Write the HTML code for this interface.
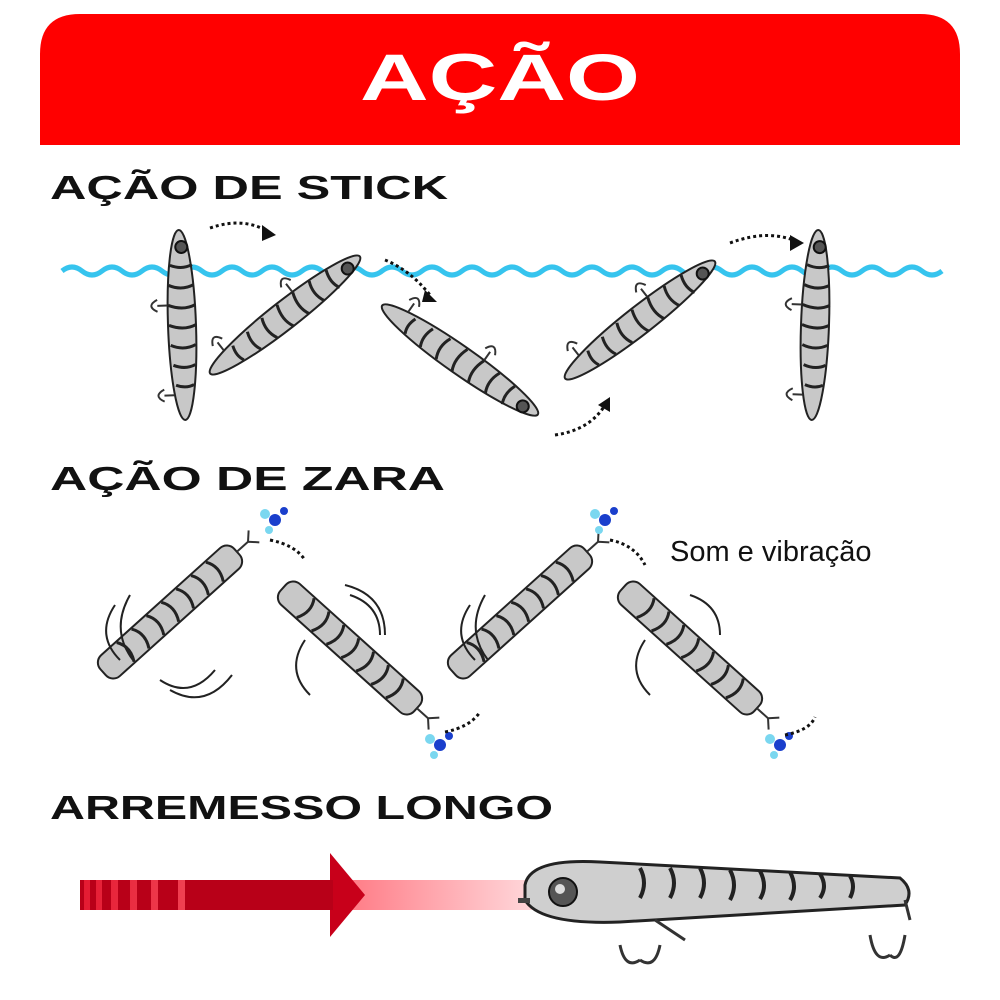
<!DOCTYPE html>
<html><head><meta charset="utf-8">
<style>
html,body{margin:0;padding:0;background:#fff;width:1000px;height:1000px;overflow:hidden}
svg{display:block}
.h{font-family:"Liberation Sans",sans-serif;font-weight:bold;fill:#111}
</style></head><body>
<svg width="1000" height="1000" viewBox="0 0 1000 1000" xmlns="http://www.w3.org/2000/svg">
<defs>
<linearGradient id="fade" x1="0" x2="1" y1="0" y2="0">
<stop offset="0" stop-color="#e0001a" stop-opacity="0.9"/>
<stop offset="0.45" stop-color="#ff3040" stop-opacity="0.7"/>
<stop offset="1" stop-color="#ff4050" stop-opacity="0"/>
</linearGradient>
<g id="lure">
<ellipse cx="0" cy="0" rx="95" ry="14" fill="#c8c8c8" stroke="#222" stroke-width="2"/>
<path d="M-60,-12 q5,10 0,22 M-40,-13 q6,12 0,25 M-20,-14 q6,12 0,27 M0,-14 q6,12 0,27 M20,-13 q6,12 0,25 M40,-12 q5,10 0,22 M60,-10 q4,8 0,18" stroke="#222" stroke-width="3" fill="none"/>
<circle cx="-78" cy="-2" r="6" fill="#555" stroke="#111" stroke-width="2"/>
<path d="M-20,14 l0,10 m-6,0 q6,12 12,0 M70,10 l0,10 m-6,0 q6,12 12,0" stroke="#333" stroke-width="2" fill="none"/>
</g>
<g id="zara">
<rect x="-90" y="-14" width="180" height="28" rx="10" fill="#c8c8c8" stroke="#222" stroke-width="2"/>
<path d="M-60,-13 q8,12 0,26 M-40,-13 q8,12 0,26 M-20,-13 q8,12 0,26 M0,-13 q8,12 0,26 M20,-13 q8,12 0,26 M40,-13 q8,12 0,26 M60,-13 q8,12 0,26" stroke="#222" stroke-width="3" fill="none"/>
<path d="M90,0 l15,0 m0,0 l8,-8 m-8,8 l8,8" stroke="#333" stroke-width="2" fill="none"/>
</g>
<g id="splash">
<circle cx="0" cy="0" r="6" fill="#1a3fcc"/><circle cx="-10" cy="-6" r="5" fill="#7ad7f0"/><circle cx="9" cy="-9" r="4" fill="#1a3fcc"/><circle cx="-6" cy="10" r="4" fill="#7ad7f0"/>
</g>
</defs>

<path d="M40,145 V54 Q40,14 80,14 H920 Q960,14 960,54 V145 Z" fill="#ff0000"/>
<text x="360" y="100" font-family="Liberation Sans,sans-serif" font-weight="bold" font-size="66" fill="#fff" textLength="280" lengthAdjust="spacingAndGlyphs">AÇÃO</text>

<text x="50" y="199" class="h" font-size="33" textLength="398" lengthAdjust="spacingAndGlyphs">AÇÃO DE STICK</text>
<text x="50" y="490" class="h" font-size="33" textLength="395" lengthAdjust="spacingAndGlyphs">AÇÃO DE ZARA</text>
<text x="50" y="819" class="h" font-size="33" textLength="503" lengthAdjust="spacingAndGlyphs">ARREMESSO LONGO</text>
<text x="670" y="561" font-family="Liberation Sans,sans-serif" font-size="29" fill="#111">Som e vibração</text>

<path d="M62,271 q10,-8 20,0 t20,0 t20,0 t20,0 t20,0 t20,0 t20,0 t20,0 t20,0 t20,0 t20,0 t20,0 t20,0 t20,0 t20,0 t20,0 t20,0 t20,0 t20,0 t20,0 t20,0 t20,0 t20,0 t20,0 t20,0 t20,0 t20,0 t20,0 t20,0 t20,0 t20,0 t20,0 t20,0 t20,0 t20,0 t20,0 t20,0 t20,0 t20,0 t20,0 t20,0 t20,0 t20,0 t20,0" stroke="#36c4ee" stroke-width="5" fill="none"/>

<use href="#lure" transform="translate(182,325) rotate(88)"/>
<use href="#lure" transform="translate(285,315) rotate(142)"/>
<use href="#lure" transform="translate(460,360) rotate(215)"/>
<use href="#lure" transform="translate(640,320) rotate(142)"/>
<use href="#lure" transform="translate(815,325) rotate(92)"/>
<g stroke="#111" stroke-width="3" stroke-dasharray="3,3" fill="none">
<path d="M210,228 q35,-12 60,5"/><path d="M385,260 q25,10 45,35"/><path d="M555,435 q35,-5 50,-30"/><path d="M730,243 q40,-15 70,0"/>
</g>
<g fill="#111"><path d="M262,225 l14,10 -14,6z"/><path d="M425,290 l12,12 -15,0z"/><path d="M598,405 l12,-8 0,15z"/><path d="M790,235 l14,8 -14,8z"/></g>

<use href="#zara" transform="translate(170,612) rotate(-42)"/>
<use href="#zara" transform="translate(350,648) rotate(42)"/>
<use href="#zara" transform="translate(520,612) rotate(-42)"/>
<use href="#zara" transform="translate(690,648) rotate(42)"/>
<use href="#splash" transform="translate(275,520)"/>
<use href="#splash" transform="translate(440,745)"/>
<use href="#splash" transform="translate(605,520)"/>
<use href="#splash" transform="translate(780,745)"/>
<g stroke="#111" stroke-width="3" stroke-dasharray="3,3" fill="none">
<path d="M270,540 q25,5 35,20"/><path d="M610,540 q25,5 35,25"/><path d="M445,732 q25,-5 35,-20"/><path d="M785,735 q25,-5 30,-18"/>
</g>
<g stroke="#222" stroke-width="2" fill="none">
<path d="M115,605 q-20,30 5,55 M130,595 q-20,35 3,65"/><path d="M160,680 q30,20 55,-10 M170,690 q35,20 62,-15"/>
<path d="M305,640 q-20,30 5,55"/><path d="M350,595 q30,10 30,40 M345,585 q40,10 40,50"/>
<path d="M470,605 q-20,30 5,55 M485,595 q-20,35 3,65"/><path d="M645,640 q-20,30 5,55"/><path d="M690,595 q30,10 30,40"/>
</g>

<rect x="80" y="880" width="540" height="30" fill="url(#fade)"/>
<path d="M330,853 L365,895 L330,937 Z" fill="#c8001a"/>
<rect x="185" y="880" width="148" height="30" fill="#b80018"/>
<g fill="#b80018"><rect x="80" y="880" width="4" height="30"/><rect x="90" y="880" width="6" height="30"/><rect x="102" y="880" width="9" height="30"/><rect x="118" y="880" width="12" height="30"/><rect x="137" y="880" width="14" height="30"/><rect x="158" y="880" width="20" height="30"/></g>

<path d="M525,885 Q530,858 600,862 L900,878 Q915,890 905,905 L620,922 Q540,925 525,900 Z" fill="#cfcfcf" stroke="#222" stroke-width="3"/>
<g stroke="#222" stroke-width="4" fill="none">
<path d="M640,868 q8,15 0,30 M670,868 q8,15 0,30 M700,868 q8,15 0,30 M730,870 q8,15 0,30 M760,871 q8,15 0,28 M790,872 q8,15 0,28 M820,874 q8,12 0,24 M850,876 q6,10 0,22"/>
</g>
<circle cx="563" cy="892" r="14" fill="#555" stroke="#111" stroke-width="2"/><circle cx="560" cy="889" r="5" fill="#ddd"/>
<rect x="518" y="898" width="12" height="5" fill="#444"/>
<g stroke="#333" stroke-width="3" fill="none">
<path d="M655,920 l30,20 M620,945 q5,25 20,15 M660,945 q-5,25 -20,15"/>
<path d="M905,900 l5,20 M870,935 q5,30 20,20 M905,935 q-5,30 -15,20"/>
</g>
</svg>
</body></html>
